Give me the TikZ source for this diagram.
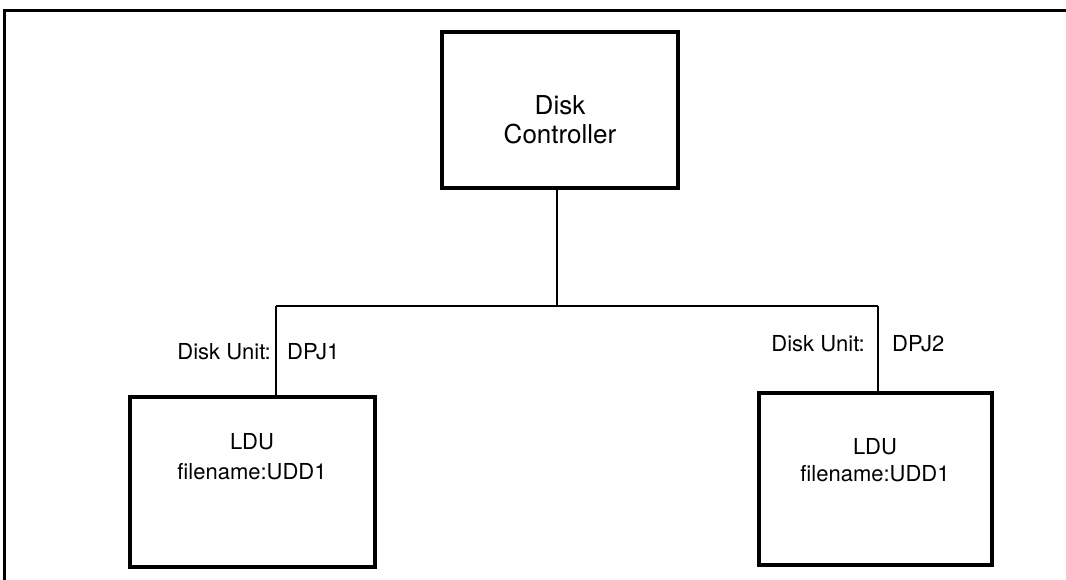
\documentclass[tikz,border=0pt]{standalone}
\usepackage{fontspec}
\setmainfont{TeX Gyre Heros}
\begin{document}
\begin{tikzpicture}[x=1pt,y=-1pt,
  box/.style={draw,line width=4.5pt,inner sep=0pt},
  wire/.style={line width=2pt},
  lbl/.style={font=\fontsize{22}{26}\selectfont,inner sep=0pt},
  big/.style={font=\fontsize{26}{29}\selectfont,align=center,inner sep=0pt}]
\useasboundingbox (0,0) rectangle (1066,580);
\draw[line width=3.5pt] (4.5,581) -- (4.5,10.5) -- (1067,10.5);
\draw[line width=1.6pt] (4.5,581) -- (4.5,20);
% boxes
\node[box,minimum width=236pt,minimum height=156pt] (dc) at (560,110) {};
\node[big] (dct) at (560,120) {Disk\\Controller};
\node[box,minimum width=245pt,minimum height=170pt] (l1) at (252.5,482) {};
\node[box,minimum width=233pt,minimum height=172pt] (l2) at (875.5,479) {};
\node[lbl] (l1a) at (252,442) {LDU};
\node[lbl] (l1b) at (252,472) {filename:UDD1};
\node[lbl] (l2a) at (875,447) {LDU};
\node[lbl] (l2b) at (875,474) {filename:UDD1};
% junction
\coordinate (j) at (557,306);
\coordinate (jl) at (276,306);
\coordinate (jr) at (878,306);
\draw[wire] (dc.south -| j) -- (j);
\draw[wire] (jl) -- (jr);
\draw[wire] (jl) -- (jl |- l1.north);
\draw[wire] (jr) -- (jr |- l2.north);
% labels
\node[lbl,anchor=east] (du1) at (271,352) {Disk Unit:};
\node[lbl,anchor=west] (dp1) at (287,352) {DPJ1};
\node[lbl,anchor=east] (du2) at (865,344) {Disk Unit:};
\node[lbl,anchor=west] (dp2) at (892,344) {DPJ2};
\end{tikzpicture}
\end{document}
